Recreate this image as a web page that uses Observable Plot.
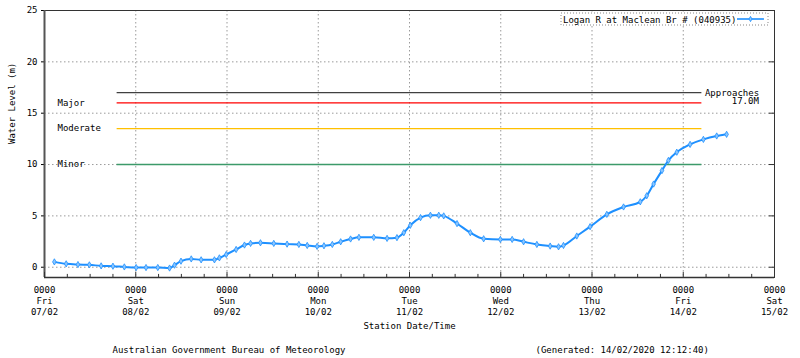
<!DOCTYPE html>
<html><head><meta charset="utf-8">
<script src="https://cdn.jsdelivr.net/npm/d3@7"></script>
<script src="https://cdn.jsdelivr.net/npm/@observablehq/plot@0.6"></script>
<style>body{margin:0;background:#fff}</style>
</head><body><div id="chart"></div>
<script>
// ---- data ----
const times = [
 "2020-02-07T02:36","2020-02-07T05:42","2020-02-07T08:48","2020-02-07T11:48","2020-02-07T14:54","2020-02-07T18:00","2020-02-07T21:00",
 "2020-02-08T00:06","2020-02-08T02:42","2020-02-08T05:48","2020-02-08T08:54","2020-02-08T10:12","2020-02-08T11:54","2020-02-08T14:36",
 "2020-02-08T17:12","2020-02-08T20:42","2020-02-08T22:00","2020-02-08T23:48","2020-02-09T02:24","2020-02-09T04:36","2020-02-09T06:12",
 "2020-02-09T08:48","2020-02-09T12:18","2020-02-09T15:48","2020-02-09T18:54","2020-02-09T21:06","2020-02-09T23:42","2020-02-10T01:30",
 "2020-02-10T03:42","2020-02-10T05:54","2020-02-10T08:30","2020-02-10T10:42","2020-02-10T14:36","2020-02-10T18:06","2020-02-10T20:42",
 "2020-02-10T22:30","2020-02-11T00:12","2020-02-11T02:54","2020-02-11T05:30","2020-02-11T07:42","2020-02-11T09:00","2020-02-11T12:30",
 "2020-02-11T16:00","2020-02-11T19:30","2020-02-11T23:54","2020-02-12T03:00","2020-02-12T06:00","2020-02-12T09:30","2020-02-12T13:00",
 "2020-02-12T15:12","2020-02-12T16:30","2020-02-12T20:00","2020-02-12T23:30","2020-02-13T03:54","2020-02-13T08:18","2020-02-13T12:42",
 "2020-02-13T14:24","2020-02-13T16:12","2020-02-13T18:24","2020-02-13T20:06","2020-02-13T22:18","2020-02-14T01:48","2020-02-14T05:18",
 "2020-02-14T08:48","2020-02-14T11:24"
];
const levels = [
 0.52,0.33,0.26,0.23,0.13,0.10,0.03,
 -0.03,-0.03,-0.03,-0.08,0.20,0.59,0.81,
 0.72,0.72,0.91,1.24,1.73,2.16,2.32,
 2.38,2.32,2.25,2.22,2.12,2.03,2.09,
 2.22,2.48,2.75,2.91,2.91,2.81,2.88,
 3.36,4.08,4.83,5.06,5.06,5.00,4.25,
 3.36,2.77,2.71,2.71,2.48,2.22,2.06,
 1.99,2.12,3.04,3.95,5.15,5.87,6.37,
 6.96,8.10,9.41,10.40,11.20,11.96,12.45,
 12.78,12.94
];
const seriesName = "Logan R at Maclean Br # (040935)";
const thresholdNames = ["Approaches", "Major", "Moderate", "Minor"];
const thresholdValues = [17, 16, 13.5, 10];
const thresholdStart = "2020-02-07T19:06";
const thresholdEnd = "2020-02-14T04:54";
const approachesNote = "17.0M";
const yTicks = [0, 5, 10, 15, 20, 25];
const xStart = "2020-02-07T00:00";
const xEnd = "2020-02-15T00:00";
const xLabel = "Station Date/Time";
const yLabel = "Water Level (m)";
const footerLeft = "Australian Government Bureau of Meteorology";
const footerRight = "(Generated: 14/02/2020 12:12:40)";

// ---- styles ----
const thresholdColor = {Approaches: "#404040", Major: "#ff0000", Moderate: "#ffc000", Minor: "#3c9a6a"};
const blue = "#1e90ff";
const font = "'DejaVu Sans Mono', monospace";

const P = s => new Date(s + ":00Z");
const data = times.map((t, i) => ({t: P(t), v: levels[i]}));
const thresholds = thresholdNames.map((n, i) => ({name: n, value: thresholdValues[i]}));
const tS = P(thresholdStart), tE = P(thresholdEnd);
const x0 = P(xStart), x1 = P(xEnd);
const yMin = -1, yMax = 25;
const dayTicks = d3.utcDay.range(x0, d3.utcDay.offset(x1, 1));
const sixHour = d3.utcHour.every(6).range(x0, x1).filter(d => d.getUTCHours() !== 0);
const fmt = d3.utcFormat("%H%M\n%a\n%d/%m");
const grid = {stroke: "#9a9a9a", strokeDasharray: "1.5,2.5"};

const plot = Plot.plot({
  width: 800, height: 358,
  marginLeft: 44, marginRight: 26, marginTop: 10, marginBottom: 81,
  style: {fontFamily: font, fontSize: "9px", color: "#000", background: "#fff"},
  x: {type: "utc", domain: [x0, x1], axis: null},
  y: {domain: [yMin, yMax], ticks: yTicks, tickSize: 3, tickPadding: 4, label: null},
  color: {type: "identity"},
  marks: [
    Plot.ruleY(yTicks.filter(v => v < yMax), grid),
    Plot.ruleX(dayTicks.filter(d => d > x0 && d < x1), grid),
    Plot.ruleY(thresholds, {y: "value", x1: () => tS, x2: () => tE, stroke: d => thresholdColor[d.name], strokeWidth: d => d.name === "Minor" ? 1.6 : 1.2}),
    Plot.text(thresholds.filter(d => d.name !== "Approaches"), {y: "value", frameAnchor: "left", dx: 13, text: "name", textAnchor: "start", fill: "#000"}),
    Plot.text(thresholds.filter(d => d.name === "Approaches"), {y: "value", x: () => tE, dx: 3, dy: 0, text: "name", textAnchor: "start", fill: "#000"}),
    Plot.text(thresholds.filter(d => d.name === "Approaches"), {y: "value", x: () => tE, dx: 57, dy: 8, text: () => approachesNote, textAnchor: "end", fill: "#000"}),
    Plot.line(data, {x: "t", y: "v", stroke: blue, strokeWidth: 2, curve: "monotone-x"}),
    Plot.dot(data, {x: "t", y: "v", symbol: "diamond", r: 1.9, fill: "#8cc6ff", stroke: blue, strokeWidth: 0.8}),
    Plot.frame({stroke: "#333"}),
    Plot.ruleX([x0], {stroke: "#555", strokeWidth: 2}),
    Plot.ruleY([yMin], {stroke: "#333", strokeWidth: 1.6}),
    Plot.ruleX(dayTicks, {x: d => d, y1: yMin, y2: yMin + 0.5, stroke: "#333"}),
    Plot.ruleX(sixHour, {x: d => d, y1: yMin, y2: yMin + 0.3, stroke: "#333"}),
    Plot.ruleY(yTicks.filter(v => v > yMin && v < yMax), {y: d => d, x1: () => d3.utcMinute.offset(x1, -80), x2: () => x1, stroke: "#333"}),
    Plot.text(dayTicks, {x: d => d, text: d => fmt(d), frameAnchor: "bottom", lineAnchor: "top", dy: 7, lineHeight: 1.27, fill: "#000"}),
    Plot.text([xLabel], {text: d => d, frameAnchor: "bottom", dy: 51, fill: "#000"}),
    Plot.text([yLabel], {text: d => d, frameAnchor: "left", dx: -32, rotate: -90, fill: "#000"}),
    Plot.text([footerLeft], {text: d => d, frameAnchor: "bottom-left", textAnchor: "start", dx: 68, dy: 75, fill: "#000"}),
    Plot.text([footerRight], {text: d => d, frameAnchor: "bottom-left", textAnchor: "start", dx: 491, dy: 75, fill: "#000"})
  ]
});

// legend (inside plot, top-right)
const svg = d3.select(plot);
const lg = svg.append("g").attr("font-family", font).attr("font-size", 9).attr("text-anchor", "start");
lg.append("rect").attr("x", 561).attr("y", 13).attr("width", 207).attr("height", 12)
  .attr("fill", "#fff").attr("stroke", "#888").attr("stroke-dasharray", "1,2");
lg.append("text").attr("x", 563).attr("y", 22.5).attr("fill", "#000").attr("text-anchor", "start").text(seriesName);
lg.append("line").attr("x1", 737).attr("x2", 764).attr("y1", 19).attr("y2", 19).attr("stroke", blue).attr("stroke-width", 1.6);
lg.append("path").attr("d", d3.symbol(d3.symbolDiamond, 8)()).attr("transform", "translate(750.5,19)")
  .attr("fill", "#8cc6ff").attr("stroke", blue).attr("stroke-width", 0.8);

document.getElementById("chart").append(plot);
</script>
</body></html>
